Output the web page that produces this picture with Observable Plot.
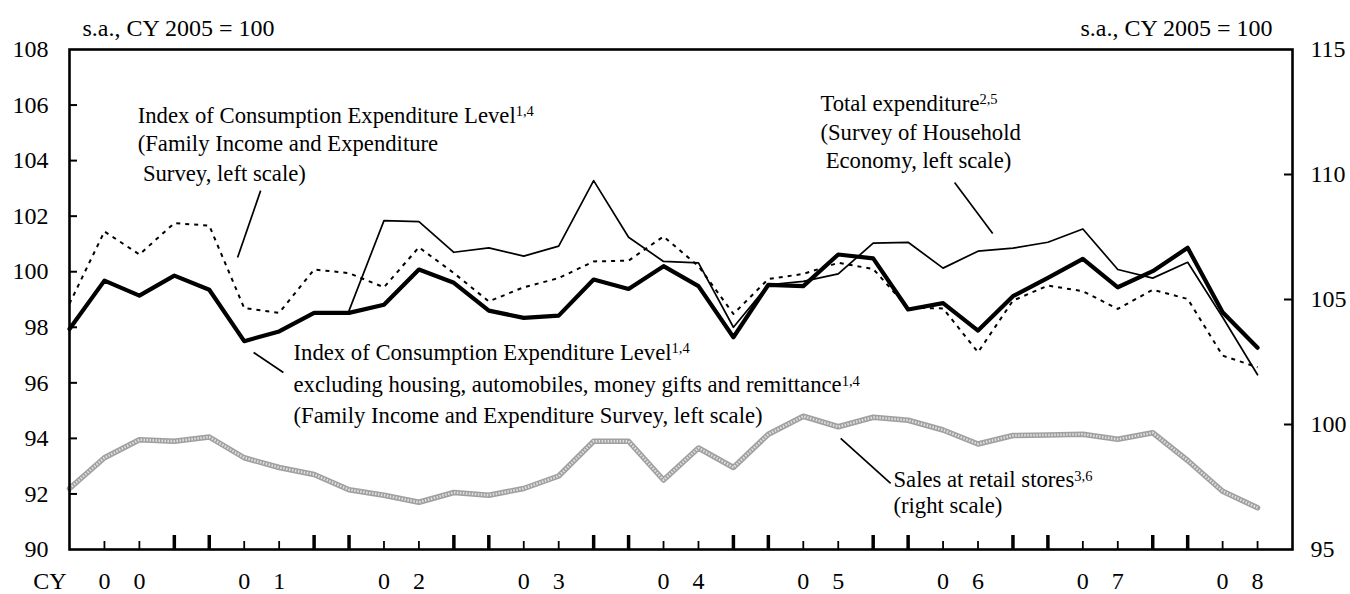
<!DOCTYPE html>
<html>
<head>
<meta charset="utf-8">
<script src="https://cdn.jsdelivr.net/npm/d3@7"></script>
<script src="https://cdn.jsdelivr.net/npm/@observablehq/plot@0.6"></script>
<style>
  html, body { margin: 0; padding: 0; background: #fff; }
  #chart { width: 1350px; height: 594px; }
</style>
</head>
<body>
<div id="chart"></div>
<script>
// ---- Data (quarterly, CY2000 Q1 to CY2008 Q3) ----
const periods = [
  "00Q1","00Q2","00Q3","00Q4","01Q1","01Q2","01Q3","01Q4",
  "02Q1","02Q2","02Q3","02Q4","03Q1","03Q2","03Q3","03Q4",
  "04Q1","04Q2","04Q3","04Q4","05Q1","05Q2","05Q3","05Q4",
  "06Q1","06Q2","06Q3","06Q4","07Q1","07Q2","07Q3","07Q4",
  "08Q1","08Q2","08Q3"
];
const years = ["00","01","02","03","04","05","06","07","08"];

// Index of Consumption Expenditure Level (Family Income and Expenditure Survey), left scale
const consumptionLevel = [
  98.85, 101.45, 100.62, 101.75, 101.66, 98.69, 98.52, 100.08,
  99.95, 99.44, 100.88, 99.95, 98.93, 99.44, 99.77, 100.37,
  100.40, 101.27, 100.20, 98.48, 99.74, 99.92, 100.32, 100.10,
  98.70, 98.68, 97.10, 98.96, 99.50, 99.30, 98.66, 99.35,
  99.02, 96.98, 96.56
];
// Index excluding housing, automobiles, money gifts and remittance, left scale
const consumptionExcl = [
  97.94, 99.68, 99.14, 99.86, 99.35, 97.50, 97.85, 98.52,
  98.52, 98.81, 100.08, 99.60, 98.60, 98.34, 98.42, 99.72,
  99.38, 100.20, 99.48, 97.64, 99.53, 99.48, 100.62, 100.48,
  98.64, 98.87, 97.88, 99.12, 99.78, 100.46, 99.44, 100.02,
  100.86, 98.54, 97.26
];
// Total expenditure (Survey of Household Economy), left scale — starts 2002
const totalExpenditure = [
  null, null, null, null, null, null, null, null,
  98.60, 101.84, 101.80, 100.70, 100.86, 100.56, 100.92, 103.28,
  101.24, 100.37, 100.32, 98.00, 99.53, 99.65, 99.92, 101.03,
  101.06, 100.13, 100.74, 100.85, 101.06, 101.54, 100.08, 99.77,
  100.34, 98.36, 96.29
];
// Sales at retail stores, right scale
const retailSales = [
  97.44, 98.67, 99.39, 99.33, 99.50, 98.67, 98.28, 98.00,
  97.39, 97.17, 96.89, 97.28, 97.17, 97.44, 97.94, 99.33,
  99.33, 97.78, 99.06, 98.28, 99.61, 100.33, 99.91, 100.29,
  100.17, 99.78, 99.22, 99.56, 99.58, 99.61, 99.41, 99.67,
  98.56, 97.33, 96.67
];

const leftTicks = [90, 92, 94, 96, 98, 100, 102, 104, 106, 108];
const rightTicks = [95, 100, 105, 110, 115];

// ---- right scale (95..115) mapped onto left scale (90..108) ----
const toLeft = v => 90 + (v - 95) * 18 / 20;
const fromLeft = v => 95 + (v - 90) * 20 / 18;

const rows = periods.map((p, i) => ({
  i, p,
  level: consumptionLevel[i],
  excl: consumptionExcl[i],
  total: totalExpenditure[i],
  sales: toLeft(retailSales[i])
}));

const positions = d3.range(1, periods.length);
const isThick = i => i % 4 === 0 || i % 4 === 3;
const thickTicks = positions.filter(isThick);
const thinTicks = positions.filter(i => !isThick(i));
const yearTickPos = years.flatMap((y, k) => [4 * k + 1, 4 * k + 2]);

// ---- Annotations ----
const notes = [
  {x: 1.95, y: 105.62, t: "Index of Consumption Expenditure Level", sup: "1,4"},
  {x: 1.95, y: 104.61, t: "(Family Income and Expenditure"},
  {x: 2.10, y: 103.53, t: "Survey, left scale)"},
  {x: 6.41, y: 97.09, t: "Index of Consumption Expenditure Level"},
  {x: 6.41, y: 95.92, t: "excluding housing, automobiles, money gifts and remittance", sup: "1,4"},
  {x: 6.41, y: 94.82, t: "(Family Income and Expenditure Survey, left scale)"},
  {x: 21.49, y: 106.05, t: "Total expenditure", sup: "2,5"},
  {x: 21.49, y: 105.01, t: "(Survey of Household"},
  {x: 21.64, y: 104.00, t: "Economy, left scale)"},
  {x: 23.58, y: 92.50, t: "Sales at retail stores", sup: "3,6"},
  {x: 23.58, y: 91.58, t: "(right scale)"}
];
const leaders = [
  {x1: 5.47, y1: 102.92, x2: 4.81, y2: 100.51},
  {x1: 5.27, y1: 97.09, x2: 6.12, y2: 96.37},
  {x1: 25.33, y1: 103.21, x2: 26.42, y2: 101.38},
  {x1: 22.07, y1: 94.00, x2: 23.50, y2: 92.38}
];

const FONT = "'Liberation Serif', 'Times New Roman', serif";

const plot = Plot.plot({
  width: 1350,
  height: 594,
  marginTop: 49,
  marginRight: 58,
  marginBottom: 45,
  marginLeft: 69,
  style: {fontFamily: FONT, fontSize: "24px", background: "#fff", color: "#000"},
  x: {domain: [0, periods.length], axis: null},
  y: {domain: [90, 108], axis: null},
  marks: [
    Plot.axisY({anchor: "left", ticks: leftTicks, tickSize: 0, tickPadding: 21, label: null, fontSize: 24, tickFormat: d => d}),
    Plot.axisY({anchor: "right", ticks: rightTicks.map(toLeft), tickSize: 0, tickPadding: 18, label: null, fontSize: 24,
      tickFormat: d => Math.round(fromLeft(d))}),
    Plot.axisX({anchor: "bottom", ticks: yearTickPos, tickSize: 0, tickPadding: 22, label: null, fontSize: 24,
      tickFormat: d => years[Math.floor(d / 4)][(d % 4) - 1]}),
    Plot.text(["CY"], {frameAnchor: "bottom-left", textAnchor: "end", dx: -3, dy: 32, lineAnchor: "middle", fontSize: 24}),
    Plot.text(["s.a., CY 2005 = 100"], {frameAnchor: "top-left", textAnchor: "start", dx: 13, dy: -21, lineAnchor: "middle", fontSize: 24}),
    Plot.text(["s.a., CY 2005 = 100"], {frameAnchor: "top-right", textAnchor: "end", dx: -20, dy: -21, lineAnchor: "middle", fontSize: 24}),
    Plot.tickY(leftTicks.slice(1, -1), {y: d => d, insetRight: 1223 - 8, stroke: "black", strokeWidth: 2}),
    Plot.tickY(rightTicks.slice(1, -1).map(toLeft), {y: d => d, insetLeft: 1223 - 8, stroke: "black", strokeWidth: 2}),
    Plot.tickX(thinTicks, {x: d => d, insetTop: 500 - 8, stroke: "black", strokeWidth: 1.8}),
    Plot.tickX(thickTicks, {x: d => d, insetTop: 500 - 14, stroke: "black", strokeWidth: 3.5}),
    Plot.line(rows, {x: "i", y: "sales", stroke: "#a0a0a0", strokeWidth: 5.5}),
    Plot.line(rows, {x: "i", y: "sales", stroke: "#e0e0e0", strokeWidth: 2.5, strokeDasharray: "1.5,1.5", strokeLinecap: "butt"}),
    Plot.line(rows, {x: "i", y: "level", stroke: "black", strokeWidth: 2, strokeDasharray: "4,5", strokeLinecap: "butt"}),
    Plot.line(rows, {x: "i", y: "total", stroke: "black", strokeWidth: 1.7}),
    Plot.line(rows, {x: "i", y: "excl", stroke: "black", strokeWidth: 4.2}),
    Plot.link(leaders, {x1: "x1", y1: "y1", x2: "x2", y2: "y2", stroke: "black", strokeWidth: 1.7}),
    Plot.text(notes, {x: "x", y: "y", text: "t", textAnchor: "start", lineAnchor: "middle", fontSize: 22.7}),
    Plot.frame({stroke: "black", strokeWidth: 2.6})
  ]
});

// superscripts on annotation labels
const supMap = new Map(notes.filter(n => n.sup).map(n => [n.t, n.sup]));
plot.querySelectorAll("text").forEach(t => {
  const s = supMap.get(t.textContent);
  if (s) {
    const ts = document.createElementNS("http://www.w3.org/2000/svg", "tspan");
    ts.setAttribute("dy", "-0.45em");
    ts.setAttribute("font-size", "14.5");
    ts.textContent = s;
    t.appendChild(ts);
  }
});

document.getElementById("chart").appendChild(plot);
</script>
</body>
</html>
